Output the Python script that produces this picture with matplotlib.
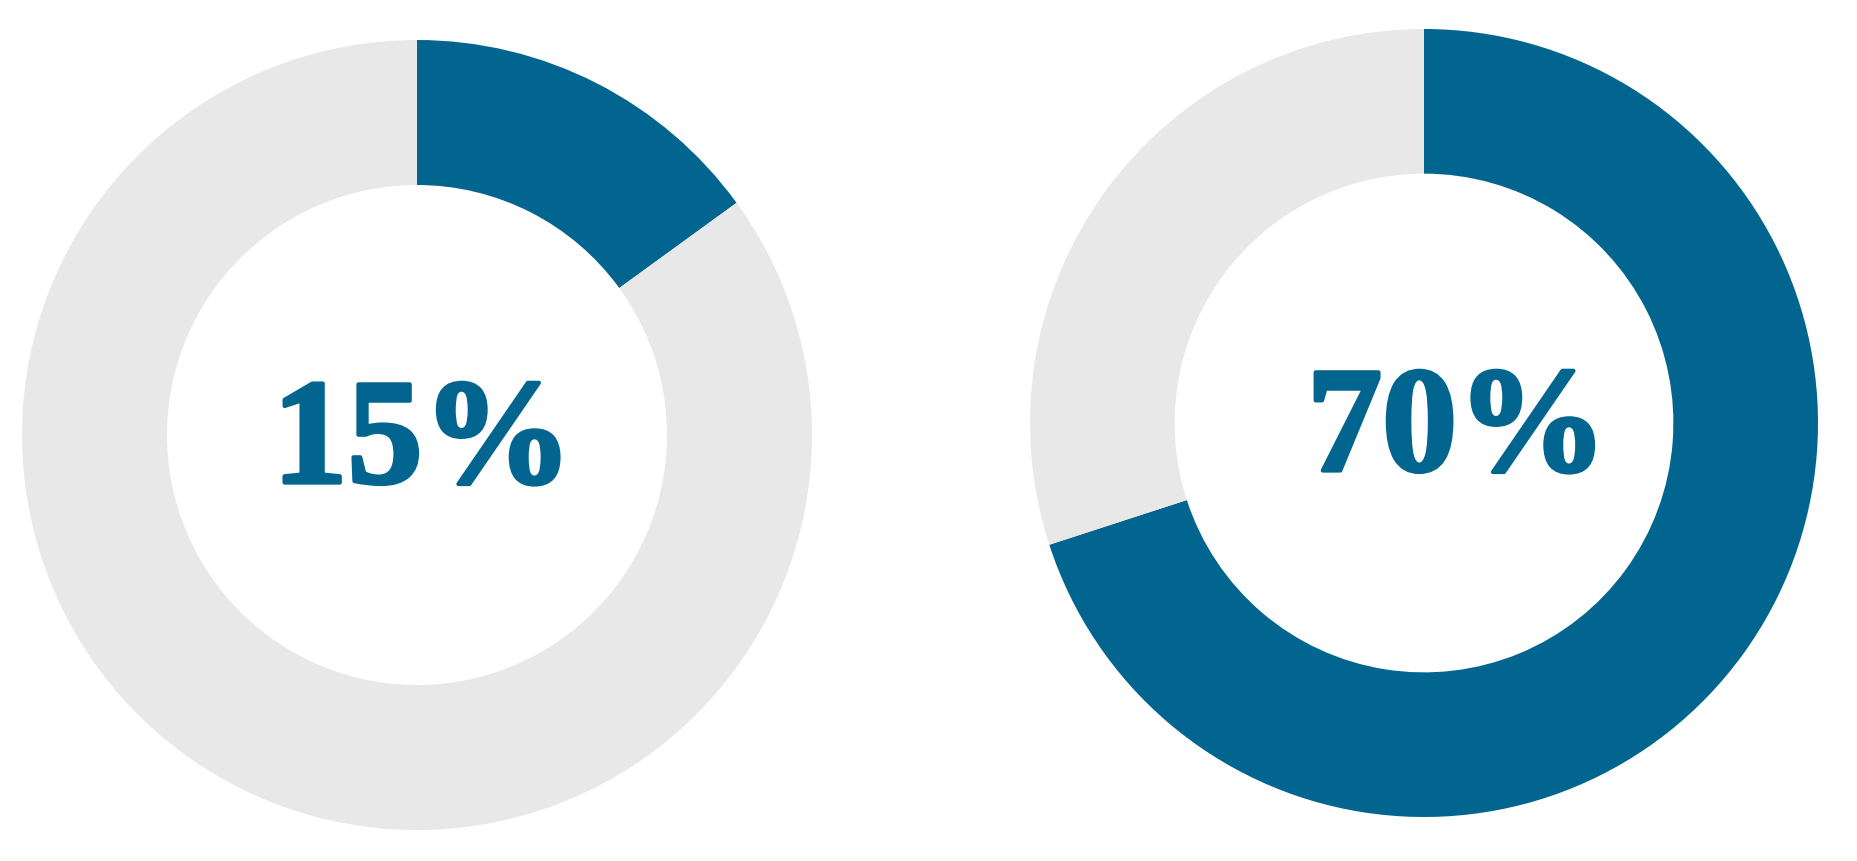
import matplotlib.pyplot as plt
import matplotlib.patheffects as pe

# donut values (percent)
labels = ["15%", "70%"]
values = [15, 70]
rest = [100 - v for v in values]

blue = '#02658f'
grey = '#e8e8e8'

W, H = 1857, 861
fig = plt.figure(figsize=(W / 100, H / 100), dpi=100)

# centre (px from top-left), outer radius in px, text offset in data units
centres = [(417, 435, 395), (1424, 423, 394)]
text_off = [(0.014, -0.028), (0.084, -0.028)]

for i in range(2):
    cx, cy, r = centres[i]
    ax = fig.add_axes([(cx - r) / W, (H - cy - r) / H, 2 * r / W, 2 * r / H])
    ax.pie([values[i], rest[i]], colors=[blue, grey], startangle=90,
           counterclock=False, radius=1,
           wedgeprops=dict(width=1 - 250 / 395, edgecolor='none'))
    ax.set_xlim(-1, 1)
    ax.set_ylim(-1, 1)
    ax.text(text_off[i][0], text_off[i][1], labels[i], ha='center', va='center',
            fontsize=108, fontweight='bold', family='Liberation Serif', color=blue,
            path_effects=[pe.withStroke(linewidth=3, foreground=blue)])
    ax.set_axis_off()

plt.savefig('out.png', dpi=100)
